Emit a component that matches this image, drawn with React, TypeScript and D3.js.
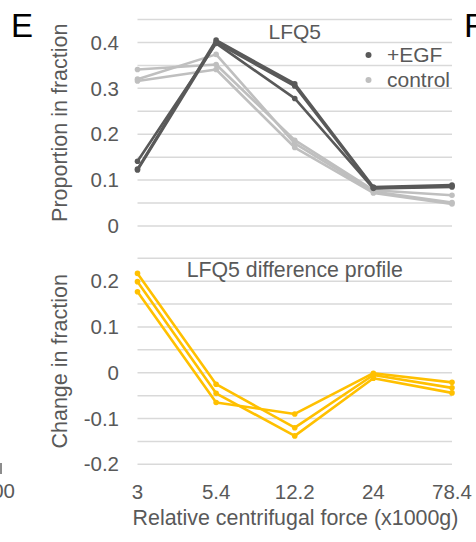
import React from "react";
import * as d3 from "d3";

const categories = ["3", "5.4", "12.2", "24", "78.4"];

const egf1 = [0.124, 0.405, 0.31, 0.085, 0.089];
const egf2 = [0.122, 0.4, 0.305, 0.083, 0.087];
const egf3 = [0.141, 0.398, 0.278, 0.082, 0.085];

const ctrl1 = [0.341, 0.352, 0.187, 0.078, 0.067];
const ctrl2 = [0.32, 0.374, 0.18, 0.075, 0.051];
const ctrl3 = [0.316, 0.341, 0.171, 0.072, 0.048];

const diff1 = [0.217, -0.025, -0.12, -0.005, -0.033];
const diff2 = [0.199, -0.045, -0.138, -0.012, -0.044];
const diff3 = [0.177, -0.065, -0.09, -0.001, -0.021];

const topTickLabels = [0, 0.1, 0.2, 0.3, 0.4];
const bottomTickLabels = [-0.2, -0.1, 0, 0.1, 0.2];
const topGrid = [0, 0.05, 0.1, 0.15, 0.2, 0.25, 0.3, 0.35, 0.4, 0.45];
const bottomGrid = [-0.2, -0.15, -0.1, -0.05, 0, 0.05, 0.1, 0.15, 0.2, 0.25];

const FONT = "'Liberation Sans', Arial, Helvetica, sans-serif";
const TEXT = "#595959";
const GRID = "#d9d9d9";
const EGF_C = "#595959";
const CTRL_C = "#bfbfbf";
const DIFF_C = "#ffc000";

export default function App() {
  const x = d3.scalePoint<string>().domain(categories).range([137.5, 452]);
  const yTop = d3.scaleLinear().domain([0, 0.45]).range([226, 19.5]);
  const yBot = d3.scaleLinear().domain([-0.2, 0.25]).range([464.3, 258.3]);

  const lineTop = d3
    .line<number>()
    .x((_, i) => x(categories[i]) as number)
    .y((d) => yTop(d));
  const lineBot = d3
    .line<number>()
    .x((_, i) => x(categories[i]) as number)
    .y((d) => yBot(d));

  const fmt = (v: number) => (v === 0 ? "0" : String(+v.toFixed(1)));

  const series = (
    data: number[],
    color: string,
    line: d3.Line<number>,
    y: d3.ScaleLinear<number, number>,
    key: string
  ) => (
    <g key={key}>
      <path d={line(data) || ""} fill="none" stroke={color} strokeWidth={2.6} strokeLinejoin="round" />
      {data.map((v, i) => (
        <circle key={i} cx={x(categories[i])} cy={y(v)} r={2.8} fill={color} />
      ))}
    </g>
  );

  return (
    <svg
      width={476}
      height={542}
      style={{ position: "absolute", left: 0, top: 0, background: "#fff" }}
      fontFamily={FONT}
    >
      <rect x={0} y={0} width={476} height={542} fill="#fff" />
      {/* panel letters */}
      <text x={11} y={37} fontSize={33} fill="#000">E</text>
      <text x={464} y={37} fontSize={34} fill="#000">F</text>
      {/* fragments of neighbouring panel */}
      <text x={15} y={498} fontSize={20.5} fill={TEXT} textAnchor="end">100</text>
      <line x1={1} x2={1} y1={463} y2={474} stroke="#8c8c8c" strokeWidth={2} />

      {/* top chart */}
      {topGrid.map((t) => (
        <line key={t} x1={137.5} x2={452} y1={yTop(t)} y2={yTop(t)} stroke={GRID} strokeWidth={1.5} />
      ))}
      {topTickLabels.map((t) => (
        <text key={t} x={119} y={yTop(t)} dy="0.35em" fontSize={20.5} fill={TEXT} textAnchor="end">
          {fmt(t)}
        </text>
      ))}
      <text transform={`translate(67,${(yTop(0) + yTop(0.45)) / 2}) rotate(-90)`} fontSize={21.5} fill={TEXT} textAnchor="middle">
        Proportion in fraction
      </text>
      <text x={294.75} y={39} fontSize={21} fill={TEXT} textAnchor="middle">LFQ5</text>
      {series(ctrl1, CTRL_C, lineTop, yTop, "c1")}
      {series(ctrl2, CTRL_C, lineTop, yTop, "c2")}
      {series(ctrl3, CTRL_C, lineTop, yTop, "c3")}
      {series(egf1, EGF_C, lineTop, yTop, "e1")}
      {series(egf2, EGF_C, lineTop, yTop, "e2")}
      {series(egf3, EGF_C, lineTop, yTop, "e3")}
      {/* legend */}
      <circle cx={368.5} cy={55} r={3} fill={EGF_C} />
      <text x={387} y={55} dy="0.35em" fontSize={21} fill={TEXT}>+EGF</text>
      <circle cx={368.5} cy={80} r={3} fill={CTRL_C} />
      <text x={387} y={80} dy="0.35em" fontSize={21} fill={TEXT}>control</text>

      {/* bottom chart */}
      {bottomGrid.map((t) => (
        <line key={t} x1={137.5} x2={452} y1={yBot(t)} y2={yBot(t)} stroke={GRID} strokeWidth={1.5} />
      ))}
      {bottomTickLabels.map((t) => (
        <text key={t} x={119} y={yBot(t)} dy="0.35em" fontSize={20.5} fill={TEXT} textAnchor="end">
          {fmt(t)}
        </text>
      ))}
      <text transform={`translate(67,${(yBot(-0.2) + yBot(0.25)) / 2}) rotate(-90)`} fontSize={21.5} fill={TEXT} textAnchor="middle">
        Change in fraction
      </text>
      <text x={294.75} y={277} fontSize={21.3} fill={TEXT} textAnchor="middle">LFQ5 difference profile</text>
      {series(diff1, DIFF_C, lineBot, yBot, "d1")}
      {series(diff2, DIFF_C, lineBot, yBot, "d2")}
      {series(diff3, DIFF_C, lineBot, yBot, "d3")}

      {/* x axis labels */}
      {categories.map((c) => (
        <text key={c} x={x(c)} y={499} fontSize={20.5} fill={TEXT} textAnchor="middle">
          {c}
        </text>
      ))}
      <text x={295.5} y={525} fontSize={21.4} fill={TEXT} textAnchor="middle">
        Relative centrifugal force (x1000g)
      </text>
    </svg>
  );
}
